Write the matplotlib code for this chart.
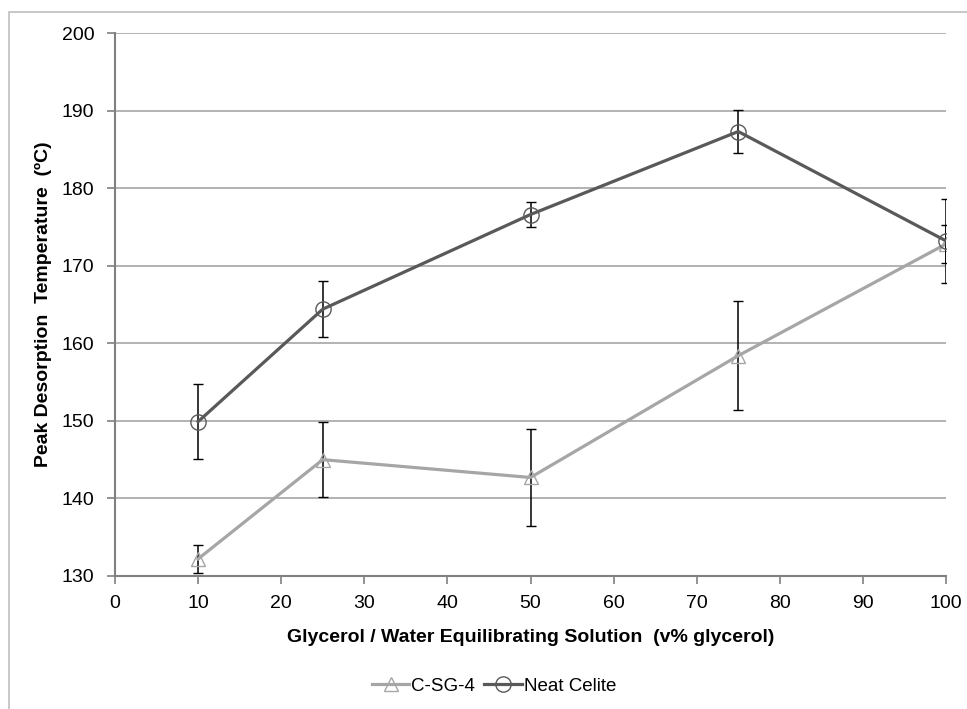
import matplotlib
matplotlib.use('Agg')
import matplotlib.pyplot as plt
from matplotlib.lines import Line2D
from matplotlib.patches import Rectangle

plt.rcParams['font.family'] = ['Liberation Sans', 'DejaVu Sans']

glycerol = [10, 25, 50, 75, 100]
csg4 = [132.2, 145.0, 142.7, 158.4, 172.8]
csg4_err = [1.85, 4.8, 6.2, 7.0, 2.5]
celite = [149.9, 164.4, 176.6, 187.3, 173.2]
celite_err = [4.8, 3.6, 1.6, 2.8, 5.4]
x_ticks = list(range(0, 101, 10))
y_ticks = list(range(130, 201, 10))

fig = plt.figure(figsize=(9.67, 7.09), dpi=100)
ax = fig.add_axes([115 / 967, 1 - 576 / 709, (946 - 115) / 967, (576 - 33) / 709])

# outer chart border (cut off at right/bottom like the original)
fig.patches.append(Rectangle((8.5 / 967, -0.1), 1.2, 1 - 12 / 709 + 0.1,
                             transform=fig.transFigure, fill=False,
                             edgecolor='#BFBFBF', linewidth=1.2))

light = '#A6A6A6'
dark = '#595959'

ax.errorbar(glycerol, csg4, yerr=csg4_err, color=light, linewidth=2.3,
            marker='^', markersize=10.5, markerfacecolor='none', markeredgecolor=light,
            markeredgewidth=1.0, ecolor='black', elinewidth=1.1, capsize=3.5,
            capthick=1.1, zorder=3)
ax.errorbar(glycerol, celite, yerr=celite_err, color=dark, linewidth=2.3,
            marker='o', markersize=11, markerfacecolor='none', markeredgecolor=dark,
            markeredgewidth=1.0, ecolor='black', elinewidth=1.1, capsize=3.5,
            capthick=1.1, zorder=4)

ax.set_xlim(0, 100)
ax.set_ylim(130, 200)
ax.set_xticks(x_ticks)
ax.set_yticks(y_ticks)
ax.grid(axis='y', color='#A6A6A6', linewidth=1.2, zorder=0)
ax.set_axisbelow(True)
for side in ['top', 'right']:
    ax.spines[side].set_visible(False)
for side in ['left', 'bottom']:
    ax.spines[side].set_color('#808080')
    ax.spines[side].set_linewidth(1.5)
ax.tick_params(axis='both', direction='out', length=6, width=1.2, color='#808080',
               labelsize=14)
ax.tick_params(axis='y', pad=9)
ax.tick_params(axis='x', pad=8)
ax.set_xlabel('Glycerol / Water Equilibrating Solution  (v% glycerol)',
              fontsize=14, fontweight='bold', labelpad=12)
ax.set_ylabel('Peak Desorption  Temperature  (\u00baC)',
              fontsize=14, fontweight='bold', labelpad=7)

handles = [
    Line2D([], [], color=light, linewidth=2.3, marker='^', markersize=10.5,
           markerfacecolor='none', markeredgecolor=light, markeredgewidth=1.0),
    Line2D([], [], color=dark, linewidth=2.3, marker='o', markersize=11,
           markerfacecolor='none', markeredgecolor=dark, markeredgewidth=1.0),
]
fig.legend(handles, ['C-SG-4', 'Neat Celite'], loc='center',
           bbox_to_anchor=(494 / 967, 1 - 686 / 709), ncol=2,
           frameon=False, fontsize=13.5, handlelength=2.0, columnspacing=0.5,
           handletextpad=0.1)

fig.savefig('out.png', dpi=100)
